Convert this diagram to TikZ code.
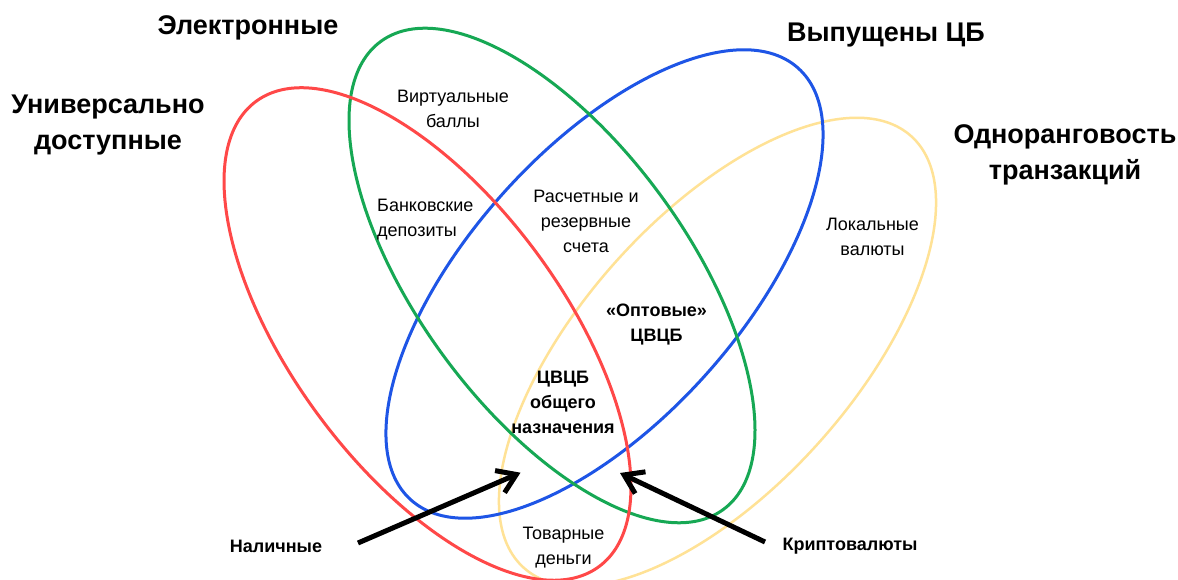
\documentclass[tikz,border=0pt]{standalone}
\usepackage{fontspec}
\setmainfont{Liberation Sans}
\usetikzlibrary{arrows.meta}
\definecolor{cred}{RGB}{255,72,72}
\definecolor{cgreen}{RGB}{22,168,84}
\definecolor{cblue}{RGB}{30,85,230}
\definecolor{cyellow}{RGB}{255,226,150}
\begin{document}
\begin{tikzpicture}[x=1pt,y=1pt,
  ring/.style={line width=3pt},
  big/.style={font=\fontsize{27}{36}\selectfont\bfseries, align=center, inner sep=0pt},
  lbl/.style={font=\fontsize{18}{25}\selectfont, align=center, inner sep=0pt},
  blbl/.style={font=\fontsize{18}{25}\selectfont\bfseries, align=center, inner sep=0pt},
  ptr/.style={line width=5pt, -{Straight Barb[length=18pt,width=24pt]}}]
\useasboundingbox (0,0) rectangle (1178,580);
\clip (0,0) rectangle (1178,580);
\fill[white] (0,0) rectangle (1178,580);
% ellipses
\draw[ring, line width=2.5pt, cyellow, rotate around={48.1:(717.5,228)}] (717.5,228) ellipse [x radius=290pt, y radius=136pt];
\draw[ring, cblue, rotate around={48.1:(604.5,296)}] (604.5,296) ellipse [x radius=290pt, y radius=136pt];
\draw[ring, cgreen, rotate around={-53.8:(552,304.5)}] (552,304.5) ellipse [x radius=290pt, y radius=135pt];
\draw[ring, cred, rotate around={-53.6:(427.5,246)}] (427.5,246) ellipse [x radius=289pt, y radius=136pt];
% set labels
\node[big] (elec) at (248,552) {Электронные};
\node[big] (cb) at (886,545) {Выпущены ЦБ};
\node[big] (univ) at (108,455) {Универсально\\доступные};
\node[big] (p2p) at (1065,425) {Одноранговость\\транзакций};
% region labels
\node[lbl] (virt) at (453,471.5) {Виртуальные\\баллы};
\node[lbl, align=left, anchor=west] (bank) at (377,360.5) {Банковские\\депозиты};
\node[lbl] (rasch) at (586,359) {Расчетные и\\резервные\\счета};
\node[lbl] (lok) at (872.5,343) {Локальные\\валюты};
\node[blbl] (opt) at (656.5,255) {«Оптовые»\\ЦВЦБ};
\node[blbl] (cbdc) at (563,177.5) {ЦВЦБ\\общего\\назначения};
\node[lbl] (tov) at (563.5,32.5) {Товарные\\деньги};
\node[blbl] (nal) at (276,34) {Наличные};
\node[blbl] (crypto) at (850,34) {Криптовалюты};
% arrows
\coordinate (nalS) at (358,37);
\coordinate (nalT) at (520.5,107.3);
\coordinate (crS) at (765,38);
\coordinate (crT) at (620,107);
\draw[ptr] (nalS) -- (nalT);
\draw[ptr] (crS) -- (crT);
\end{tikzpicture}
\end{document}
